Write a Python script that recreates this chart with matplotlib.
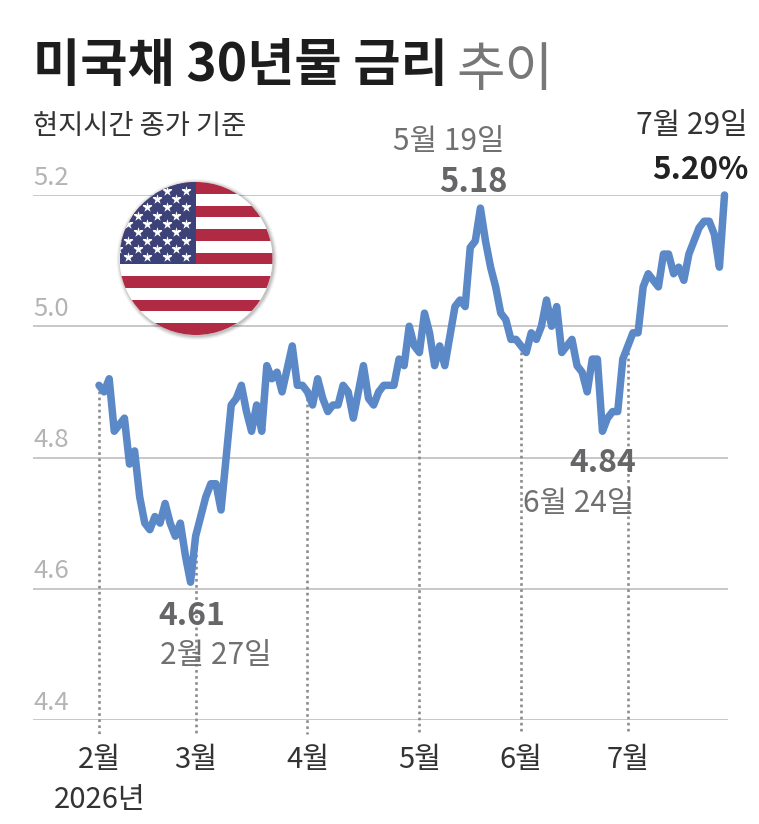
import matplotlib
matplotlib.use("Agg")
import numpy as np
from matplotlib import pyplot as plt
from matplotlib.patches import Circle, Rectangle

plt.rcParams['font.family'] = ['Noto Sans CJK KR', 'DejaVu Sans']

W, H = 759, 824

# 30년물 금리 (거래일 순서)
rates = [
    4.91, 4.90, 4.92, 4.84, 4.85, 4.86, 4.79, 4.81, 4.74, 4.70, 4.69, 4.71, 4.70, 4.73, 4.70, 4.68,
    4.70, 4.65, 4.61, 4.68, 4.71, 4.74, 4.76, 4.76, 4.72, 4.80, 4.88, 4.89, 4.91, 4.87, 4.84, 4.88,
    4.84, 4.94, 4.92, 4.93, 4.90, 4.935, 4.97, 4.91, 4.91, 4.90, 4.88, 4.92, 4.89, 4.87, 4.88, 4.88,
    4.91, 4.90, 4.86, 4.90, 4.94, 4.89, 4.88, 4.90, 4.91, 4.91, 4.91, 4.95, 4.94, 5.00, 4.97, 4.96,
    5.02, 4.99, 4.94, 4.97, 4.94, 4.985, 5.03, 5.04, 5.03, 5.12, 5.13, 5.18, 5.13, 5.09, 5.06, 5.02,
    5.01, 4.98, 4.98, 4.97, 4.96, 4.99, 4.98, 5.00, 5.04, 5.00, 5.03, 4.96, 4.97, 4.98, 4.94, 4.93,
    4.90, 4.95, 4.95, 4.84, 4.86, 4.87, 4.87, 4.95, 4.97, 4.99, 4.99, 5.06, 5.08, 5.07, 5.06, 5.11,
    5.11, 5.08, 5.09, 5.07, 5.11, 5.13, 5.15, 5.16, 5.16, 5.14, 5.09, 5.20,
]
month_labels = ['2월', '3월', '4월', '5월', '6월', '7월']
month_idx = [0, 19, 41, 63, 83, 104]
y_ticks = [4.4, 4.6, 4.8, 5.0, 5.2]

step = (724.5 - 99) / (len(rates) - 1)
x = np.arange(len(rates))

fig = plt.figure(figsize=(W / 100, H / 100), dpi=100)
ax = fig.add_axes([33 / W, 1 - 720 / H, (728 - 33) / W, (720 - 195) / H])
ax.set_xlim((33 - 99) / step, (728 - 99) / step)
ax.set_ylim(4.4, 5.2)
ax.axis('off')

for t in y_ticks:
    ax.axhline(t, color='#b9b9b9', lw=1.1, zorder=1)
    ax.annotate(f'{t:.1f}', (0, t), xycoords=('axes fraction', 'data'), xytext=(0, 12.5),
                textcoords='offset points', ha='left', va='center', fontsize=18.5, color='#b4b4b4')

for i in month_idx:
    ax.plot([i, i], [rates[i], 4.378], color='#8c8c8c', lw=1.9, ls=(0, (1, 1.3)), clip_on=False, zorder=1)

ax.plot(x, rates, color='#5b88c6', lw=5.4, solid_joinstyle='round', solid_capstyle='round',
        clip_on=False, zorder=3)


def txt(px, py, s, **kw):
    fig.text(px / W, 1 - py / H, s, va='center', **kw)


# 제목
txt(33, 66, '미국채 30년물 금리', fontsize=37, fontweight='bold', color='#1d1d1d', ha='left')
txt(456, 70, '추이', fontsize=38, color='#777777', ha='left', fontweight='light')
txt(33, 127, '현지시간 종가 기준', fontsize=19.7, color='#333333', ha='left')

# 월 라벨
for lab, i in zip(month_labels, month_idx):
    px = 99 + i * step
    txt(px, 760, lab, fontsize=21, color='#333333', ha='center')
txt(100, 800, '2026년', fontsize=21, color='#333333', ha='center')

# 주요 시점
txt(449, 141, '5월 19일', fontsize=21.5, color='#707072', ha='center')
txt(473, 183, '5.18', fontsize=23.5, fontweight='bold', color='#666668', ha='center')
txt(692, 126, '7월 29일', fontsize=21.5, color='#333333', ha='center')
txt(700, 170, '5.20%', fontsize=22.7, fontweight='bold', color='#222222', ha='center')
txt(192, 616, '4.61', fontsize=23, fontweight='bold', color='#666668', ha='center')
txt(216, 655, '2월 27일', fontsize=21.5, color='#707072', ha='center')
txt(603, 463, '4.84', fontsize=23, fontweight='bold', color='#666668', ha='center')
txt(579, 504, '6월 24일', fontsize=21.5, color='#707072', ha='center')

# 성조기 (픽셀 좌표)
flag = fig.add_axes([0, 0, 1, 1], facecolor='none')
flag.set_xlim(0, W)
flag.set_ylim(H, 0)
flag.axis('off')
cx, cy, r = 196, 258.5, 76.5
for off, alpha in [(4, .04), (3, .05), (2, .07), (1, .09)]:
    flag.add_patch(Circle((cx + 1, cy + 1), r + off, color='black', alpha=alpha, lw=0, zorder=4))
disc = Circle((cx, cy), r, color='white', lw=0, zorder=5)
flag.add_patch(disc)
stripe_h = 153 / 13
for k in range(0, 13, 2):
    s = Rectangle((cx - r, cy - r + k * stripe_h), 2 * r, stripe_h, color='#b02a43', lw=0, zorder=6)
    flag.add_patch(s)
    s.set_clip_path(disc)
canton = Rectangle((cx - r, cy - r), r, 7 * stripe_h, color='#3c4277', lw=0, zorder=7)
flag.add_patch(canton)
canton.set_clip_path(disc)
star_x, star_y = [], []
for row in range(9):
    py = 190.7 + row * 8.3
    cols = [186, 166.7, 147.3, 128.3] if row % 2 == 0 else [176.3, 157, 137.7, 118.4]
    for px in cols:
        star_x.append(px)
        star_y.append(py)
stars = flag.scatter(star_x, star_y, marker='*', s=58, color='white', lw=0, zorder=8)
stars.set_clip_path(disc)

fig.savefig('out.png', dpi=100)
